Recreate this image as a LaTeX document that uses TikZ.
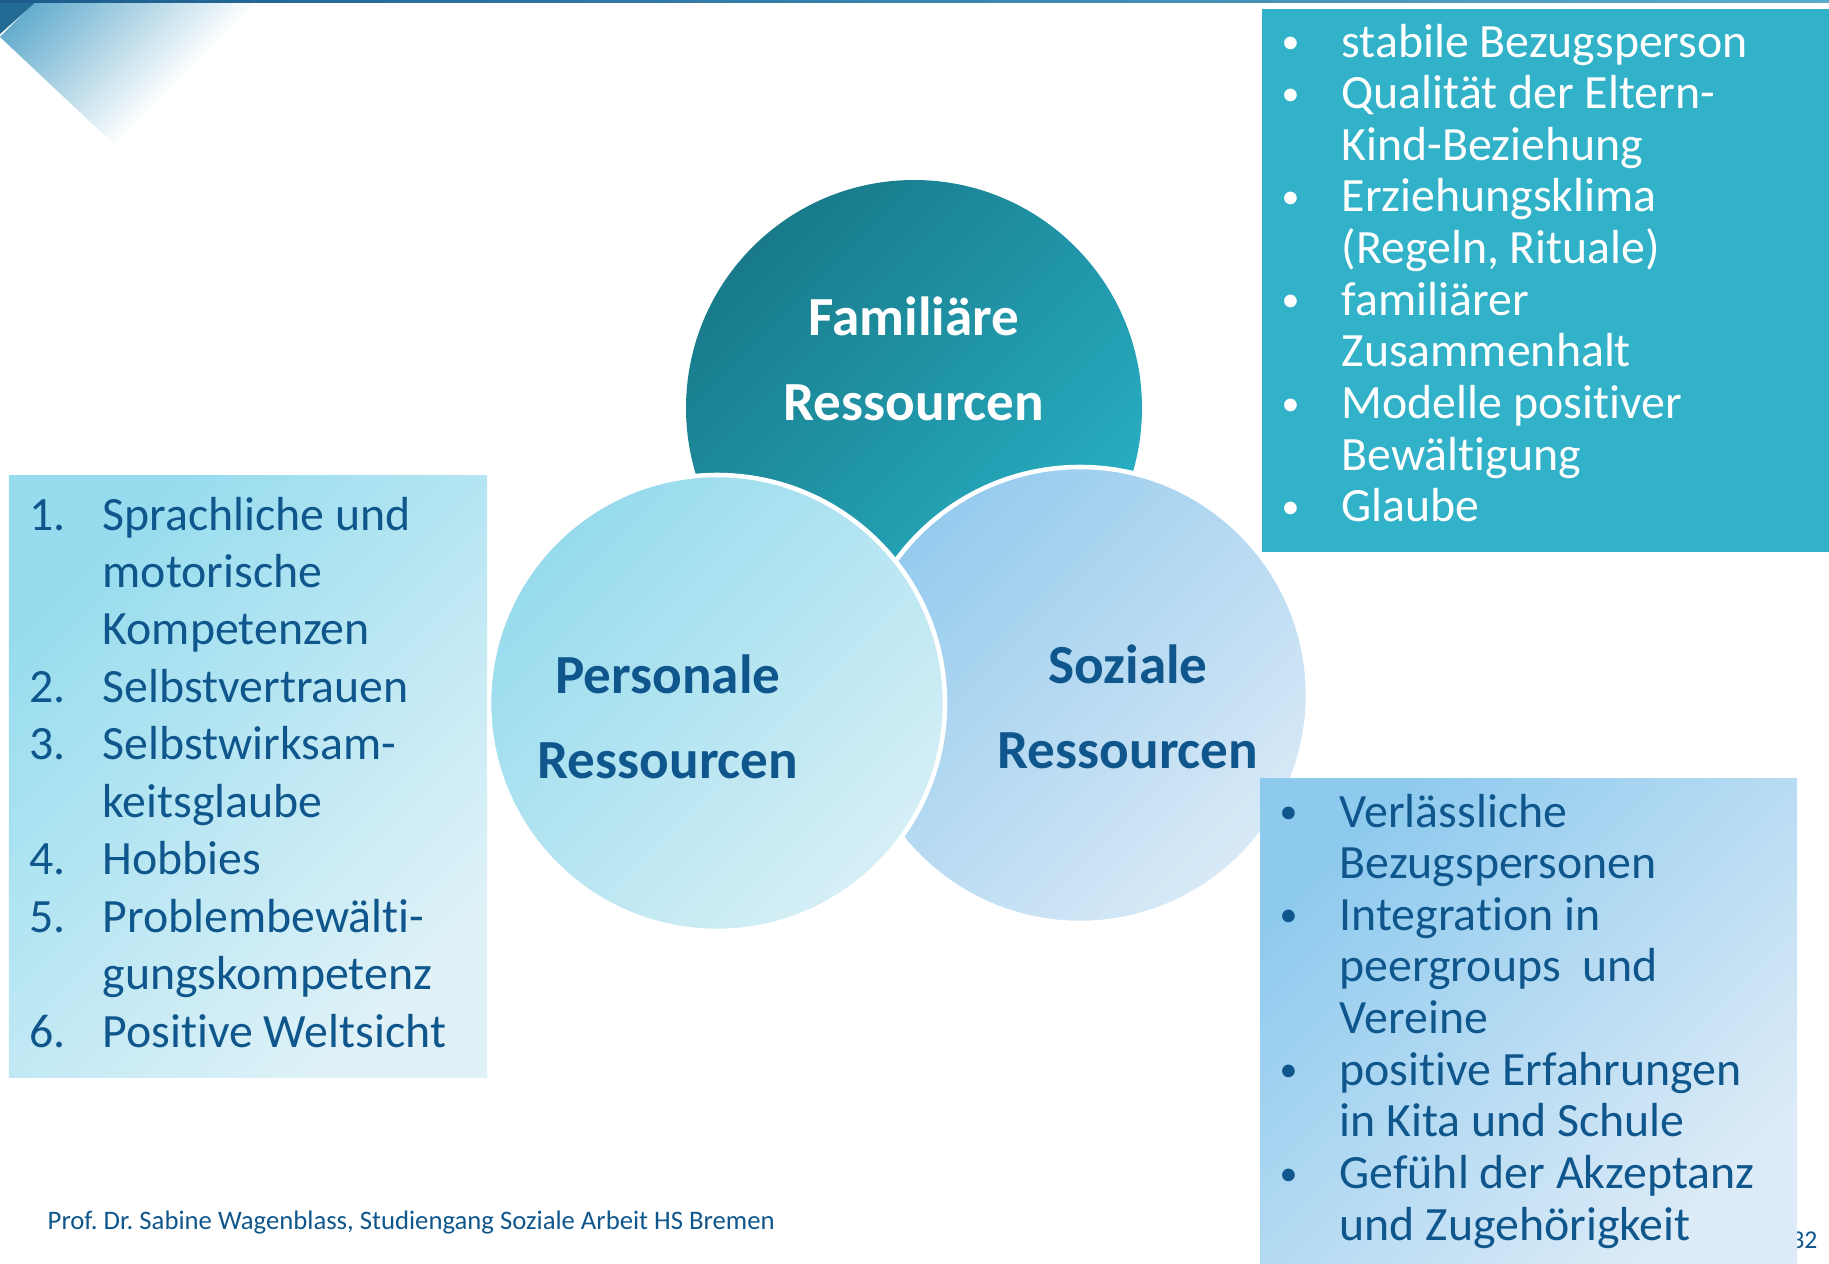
\documentclass[tikz,border=0pt]{standalone}
\usepackage{fontspec}
\setmainfont{Carlito}[Ligatures=NoCommon]

\definecolor{famdark}{RGB}{24,122,138}
\definecolor{famlight}{RGB}{40,176,196}
\definecolor{perstop}{RGB}{150,219,237}
\definecolor{persbot}{RGB}{214,239,246}
\definecolor{soztop}{RGB}{150,203,238}
\definecolor{sozbot}{RGB}{216,233,246}
\definecolor{tealbox}{RGB}{50,178,200}
\definecolor{listtop}{RGB}{150,220,238}
\definecolor{listbot}{RGB}{224,242,248}
\definecolor{peertop}{RGB}{142,202,238}
\definecolor{peerbot}{RGB}{220,235,247}
\definecolor{navy}{RGB}{14,86,140}
\definecolor{barleft}{RGB}{28,92,140}
\definecolor{barright}{RGB}{90,172,204}
\definecolor{corner}{RGB}{33,106,148}
\definecolor{cornerlight}{RGB}{100,172,205}

\newcommand\listsize{\fontsize{13.6}{14.7}\selectfont}
\newcommand\numsize{\fontsize{13.6}{16.35}\selectfont}
\newcommand\bul{\makebox[0.57cm][l]{\hspace{-0.03cm}\raisebox{1pt}{\scalebox{0.75}{•}}}}
\newcommand\itemno[1]{\makebox[0.73cm][l]{#1.}}
% t und i getrennt setzen (keine ti-Ligatur)
\newcommand\ti{t\kern0pt i}

\begin{document}
\begin{tikzpicture}[
	ring/.style={circle, inner sep=0pt, minimum size=4.56cm, shading angle=45},
	title/.style={anchor=base, inner sep=0pt, font=\bfseries\fontsize{15.7}{18}\selectfont},
	listnode/.style={anchor=base west, inner sep=0pt, align=left}
	]
	\useasboundingbox (0,0) rectangle (18.29,12.63);
	
	% Ecke oben links und Balken
	\begin{scope}
		\clip (0,12.26) -- (0.36,12.63) -- (2.62,12.63) -- (1.18,11.15) -- cycle;
		\shade[left color=cornerlight, right color=white, transform canvas={rotate around={-45:(0,12.63)}}]
			(0.26,10.5) rectangle (1.85,14.8);
	\end{scope}
	\fill[corner] (0,12.63) -- (0.38,12.63) -- (0,12.29) -- cycle;
	\shade[left color=barleft, right color=barright] (0,12.60) rectangle (18.29,12.63);
	
	% Kreise
	\node[top color=famdark, bottom color=famlight, ring] (fam) at (9.14,8.55) {};
	\node[top color=soztop, bottom color=sozbot, ring, draw=white, line width=1.3pt] (soz) at (10.80,5.68) {};
	\node[top color=perstop, bottom color=persbot, ring, draw=white, line width=1.3pt] (pers) at (7.17,5.60) {};
	
	\node[title, white] (famA) at (9.14,9.28) {Familiäre};
	\node[title, white] (famB) at (9.14,8.43) {Ressourcen};
	\node[title, navy] (persA) at (6.68,5.70) {Personale};
	\node[title, navy] (persB) at (6.68,4.85) {Ressourcen};
	\node[title, navy] (sozA) at (11.28,5.80) {Soziale};
	\node[title, navy] (sozB) at (11.28,4.95) {Ressourcen};
	
	% Kästen
	\fill[tealbox] (12.62,7.11) rectangle (18.29,12.54);
	\shade[top color=listtop, bottom color=listbot, shading angle=45] (0.09,1.86) rectangle (4.87,7.88);
	
	\node[anchor=base east, inner sep=0pt, navy, font=\fontsize{7.3}{9}\selectfont] (pageno) at (18.18,0.15) {32};
	\shade[top color=peertop, bottom color=peerbot, shading angle=45] (12.60,0) rectangle (17.97,4.85);
	
	\node[listnode, white, font=\listsize] (famlist) at (12.84,12.06) {%
		\begin{tabular}[t]{@{}l@{}l@{}}
			\bul & stabile Bezugsperson\\
			\bul & Qualität der Eltern-\\
			     & Kind-Beziehung\\
			\bul & Erziehungsklima\\
			     & (Regeln, Rituale)\\
			\bul & familiärer\\
			     & Zusammenhalt\\
			\bul & Modelle posi\ti ver\\
			     & Bewäl\ti gung\\
			\bul & Glaube
		\end{tabular}};
	
	\node[listnode, navy, font=\numsize] (perslist) at (0.29,7.33) {%
		\begin{tabular}[t]{@{}l@{}l@{}}
			\itemno{1} & Sprachliche und\\
			           & motorische\\
			           & Kompetenzen\\
			\itemno{2} & Selbstvertrauen\\
			\itemno{3} & Selbstwirksam-\\
			           & keitsglaube\\
			\itemno{4} & Hobbies\\
			\itemno{5} & Problembewäl\ti-\\
			           & gungskompetenz\\
			\itemno{6} & Posi\ti ve Weltsicht
		\end{tabular}};
	
	\node[listnode, navy, font=\listsize] (sozlist) at (12.82,4.36) {%
		\begin{tabular}[t]{@{}l@{}l@{}}
			\bul & Verlässliche\\
			     & Bezugspersonen\\
			\bul & Integra\ti on in\\
			     & peergroups~~und\\
			     & Vereine\\
			\bul & posi\ti ve Erfahrungen\\
			     & in Kita und Schule\\
			\bul & Gefühl der Akzeptanz\\
			     & und Zugehörigkeit
		\end{tabular}};
	
	\node[anchor=base west, inner sep=0pt, navy, font=\fontsize{7.6}{9}\selectfont] (footer) at (0.47,0.34)
		{Prof.\ Dr.\ Sabine Wagenblass, Studiengang Soziale Arbeit HS Bremen};
\end{tikzpicture}
\end{document}
